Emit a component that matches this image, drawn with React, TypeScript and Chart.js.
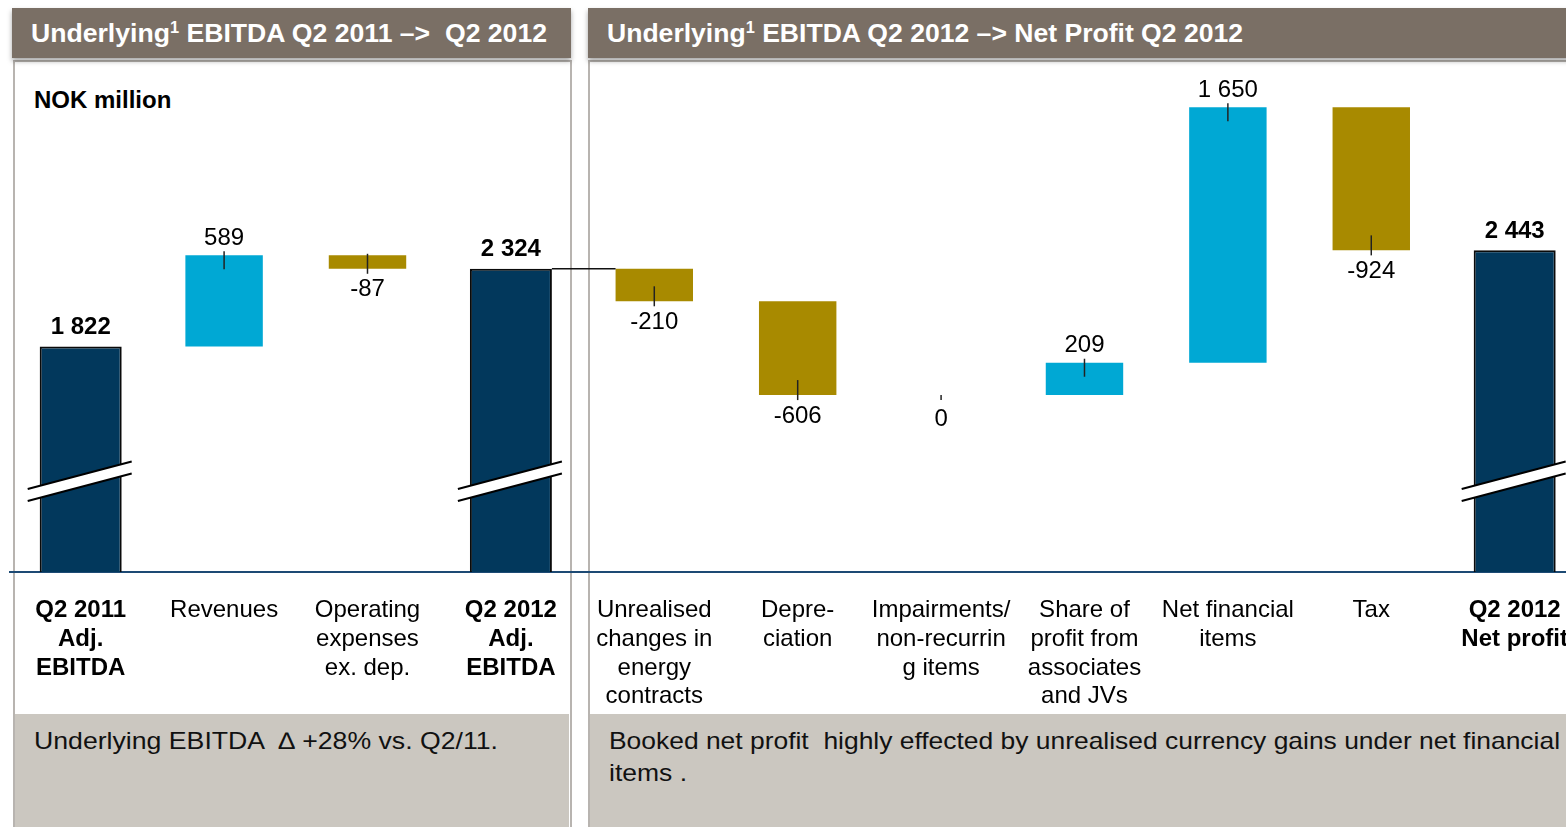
import React, { useEffect, useRef } from "react";
import { Chart, registerables } from "chart.js";

Chart.register(...registerables);

// ---------- DATA ----------
const categories: string[][] = [
  ["Q2 2011", "Adj.", "EBITDA"],
  ["Revenues"],
  ["Operating", "expenses", "ex. dep."],
  ["Q2 2012", "Adj.", "EBITDA"],
  ["Unrealised", "changes in", "energy", "contracts"],
  ["Depre-", "ciation"],
  ["Impairments/", "non-recurrin", "g items"],
  ["Share of", "profit from", "associates", "and JVs"],
  ["Net financial", "items"],
  ["Tax"],
  ["Q2 2012", "Net profit"],
];
// null = total bar (running sum)
const stepValues: (number | null)[] = [1822, 589, -87, null, -210, -606, 0, 209, 1650, -924, null];
const isTotal: boolean[] = [true, false, false, true, false, false, false, false, false, false, true];
const yMin = 365;
const yMax = 3660;

const TOTAL_COLOR = "#02385c";
const POS_COLOR = "#00a8d4";
const NEG_COLOR = "#a88a00";
const FONT = "'Liberation Sans', Arial, sans-serif";

function fmt(v: number): string {
  const s = Math.abs(v).toString().replace(/\B(?=(\d{3})+(?!\d))/g, " ");
  return (v < 0 ? "-" : "") + s;
}

function buildWaterfall() {
  let run = 0;
  const ranges: [number, number][] = [];
  const labels: number[] = [];
  stepValues.forEach((v, i) => {
    if (v === null) {
      ranges.push([0, run]);
      labels.push(run);
    } else if (i === 0) {
      run = v;
      ranges.push([0, run]);
      labels.push(v);
    } else {
      const start = run;
      run += v;
      ranges.push([start, run]);
      labels.push(v);
    }
  });
  return { ranges, labels };
}

function StretchText(props: { html: React.ReactNode; target: number; style: React.CSSProperties }) {
  const ref = useRef<HTMLSpanElement>(null);
  useEffect(() => {
    const el = ref.current;
    if (!el) return;
    el.style.transform = "none";
    const w = el.getBoundingClientRect().width;
    if (w > 0) el.style.transform = `scaleX(${props.target / w})`;
  }, [props.target]);
  return (
    <span ref={ref} style={{ display: "inline-block", transformOrigin: "left center", whiteSpace: "pre", ...props.style }}>
      {props.html}
    </span>
  );
}

export default function App() {
  const canvasRef = useRef<HTMLCanvasElement>(null);

  useEffect(() => {
    const canvas = canvasRef.current;
    if (!canvas) return;
    const { ranges, labels } = buildWaterfall();

    const stepColors = stepValues.map((v) => ((v ?? 0) >= 0 ? POS_COLOR : NEG_COLOR));
    const totalData = ranges.map((r, i) => (isTotal[i] ? r : null));
    const stepData = ranges.map((r, i) => (isTotal[i] ? null : r));

    const barOf = (chart: any, i: number) =>
      isTotal[i] ? chart.getDatasetMeta(0).data[i] : chart.getDatasetMeta(1).data[i];

    const decor = {
      id: "waterfallDecor",
      afterDatasetsDraw(chart: any) {
        const ctx = chart.ctx;
        const yScale = chart.scales.y;
        const area = chart.chartArea;
        ctx.save();

        // connector between Q2 2012 EBITDA and first step
        const b3 = barOf(chart, 3);
        const b4 = barOf(chart, 4);
        const yc = yScale.getPixelForValue(ranges[3][1]);
        ctx.strokeStyle = "#111";
        ctx.lineWidth = 1.5;
        ctx.beginPath();
        ctx.moveTo(b3.x + b3.width / 2, yc);
        ctx.lineTo(b4.x - b4.width / 2, yc);
        ctx.stroke();

        // axis-break marks on total bars
        const breakY = area.bottom - 91;
        categories.forEach((_, i) => {
          if (!isTotal[i]) return;
          const bar = barOf(chart, i);
          const x0 = bar.x - 53;
          const x1 = bar.x + 51;
          const slope = -27 / 102;
          const y0 = breakY + 8;
          const gap = 12;
          ctx.fillStyle = "#ffffff";
          ctx.beginPath();
          ctx.moveTo(x0, y0);
          ctx.lineTo(x1, y0 + slope * (x1 - x0));
          ctx.lineTo(x1, y0 + slope * (x1 - x0) + gap);
          ctx.lineTo(x0, y0 + gap);
          ctx.closePath();
          ctx.fill();
          ctx.strokeStyle = "#000";
          ctx.lineWidth = 2;
          ctx.beginPath();
          ctx.moveTo(x0, y0);
          ctx.lineTo(x1, y0 + slope * (x1 - x0));
          ctx.moveTo(x0, y0 + gap);
          ctx.lineTo(x1, y0 + slope * (x1 - x0) + gap);
          ctx.stroke();
        });

        // labels + leader lines
        ctx.textAlign = "center";
        ctx.textBaseline = "middle";
        categories.forEach((_, i) => {
          const bar = barOf(chart, i);
          const v = labels[i];
          const [s, e] = ranges[i];
          const total = isTotal[i];
          ctx.font = `${total ? "bold " : ""}24px ${FONT}`;
          ctx.fillStyle = "#000";
          if (total) {
            const yt = yScale.getPixelForValue(e);
            ctx.fillText(fmt(v), bar.x, yt - 19);
            return;
          }
          ctx.strokeStyle = "#222";
          ctx.lineWidth = 1.5;
          if (v > 0) {
            const yt = yScale.getPixelForValue(e);
            ctx.beginPath();
            ctx.moveTo(bar.x, yt - 4);
            ctx.lineTo(bar.x, yt + 14);
            ctx.stroke();
            ctx.fillText(fmt(v), bar.x, yt - 17);
          } else if (v < 0) {
            const yb = yScale.getPixelForValue(e);
            ctx.beginPath();
            ctx.moveTo(bar.x, yb - 15);
            ctx.lineTo(bar.x, yb + 5);
            ctx.stroke();
            ctx.fillText(fmt(v), bar.x, yb + 21);
          } else {
            const y = yScale.getPixelForValue(s);
            ctx.beginPath();
            ctx.moveTo(bar.x, y);
            ctx.lineTo(bar.x, y + 5);
            ctx.stroke();
            ctx.fillText(fmt(v), bar.x, y + 24);
          }
        });
        ctx.restore();
      },
    };

    const chart = new Chart(canvas, {
      type: "bar",
      data: {
        labels: categories as any,
        datasets: [
          {
            data: totalData as any,
            backgroundColor: TOTAL_COLOR,
            borderColor: "#0a0a0a",
            borderWidth: 2,
            borderSkipped: "start",
            barPercentage: 1,
            categoryPercentage: 0.572,
            grouped: false,
          },
          {
            data: stepData as any,
            backgroundColor: stepColors,
            borderWidth: 0,
            barPercentage: 1,
            categoryPercentage: 0.54,
            grouped: false,
          },
        ],
      },
      options: {
        animation: false,
        responsive: false,
        maintainAspectRatio: false,
        layout: { padding: 0 },
        plugins: { legend: { display: false }, tooltip: { enabled: false }, title: { display: false } },
        scales: {
          x: {
            z: 1,
            grid: { display: false, drawTicks: false },
            border: { display: true, color: "#1d4a74", width: 2 },
            afterFit: (scale: any) => {
              scale.height = 140;
            },
            ticks: {
              autoSkip: false,
              maxRotation: 0,
              minRotation: 0,
              padding: 24,
              color: "#000",
              font: (c: any) => ({
                family: FONT,
                size: 24,
                weight: isTotal[c.index] ? "bold" : "normal",
                lineHeight: 1.2,
              }),
            },
          },
          y: {
            display: false,
            min: yMin,
            max: yMax,
          },
        },
      },
      plugins: [decor],
    });
    return () => chart.destroy();
  }, []);

  const headerText: React.CSSProperties = {
    fontFamily: FONT,
    fontWeight: "bold",
    fontSize: 26,
    color: "#ffffff",
  };
  const sup: React.CSSProperties = { fontSize: 16, verticalAlign: "9px" };
  const footText: React.CSSProperties = { fontSize: 24, color: "#111", fontFamily: FONT, lineHeight: "32px" };
  const footLine: React.CSSProperties = { height: 32, lineHeight: "32px", whiteSpace: "pre" };

  return (
    <div
      style={{
        position: "fixed",
        left: 0,
        top: 0,
        width: 1566,
        height: 827,
        overflow: "hidden",
        background: "#ffffff",
        fontFamily: FONT,
      }}
    >
      {/* panel frames */}
      <div style={{ position: "absolute", left: 13, top: 60, width: 555, height: 780, border: "2px solid #b8b4b0" }} />
      <div style={{ position: "absolute", left: 588, top: 60, width: 1000, height: 780, border: "2px solid #b8b4b0" }} />

      {/* footers */}
      <div style={{ position: "absolute", left: 15, top: 714, width: 554, height: 113, background: "#cbc7c0" }} />
      <div style={{ position: "absolute", left: 590, top: 714, width: 976, height: 113, background: "#cbc7c0" }} />
      <div style={{ position: "absolute", left: 34, top: 725 }}>
        <div style={footLine}>
          <StretchText target={464} style={footText} html={"Underlying EBITDA  \u2206 +28% vs. Q2/11."} />
        </div>
      </div>
      <div style={{ position: "absolute", left: 609, top: 725 }}>
        <div style={footLine}>
          <StretchText
            target={951}
            style={footText}
            html={"Booked net profit  highly effected by unrealised currency gains under net financial"}
          />
        </div>
        <div style={footLine}>
          <StretchText target={78} style={footText} html={"items ."} />
        </div>
      </div>

      {/* headers */}
      <div
        style={{
          position: "absolute",
          left: 12,
          top: 8,
          width: 559,
          height: 50,
          background: "#7a6f65",
          boxShadow: "0 3px 5px rgba(0,0,0,0.35)",
          display: "flex",
          alignItems: "center",
          paddingLeft: 19,
          boxSizing: "border-box",
        }}
      >
        <StretchText
          target={516}
          style={headerText}
          html={
            <>
              Underlying<span style={sup}>1</span>
              {" EBITDA Q2 2011 \u2013>  Q2 2012"}
            </>
          }
        />
      </div>
      <div
        style={{
          position: "absolute",
          left: 588,
          top: 8,
          width: 990,
          height: 50,
          background: "#7a6f65",
          boxShadow: "0 3px 5px rgba(0,0,0,0.35)",
          display: "flex",
          alignItems: "center",
          paddingLeft: 19,
          boxSizing: "border-box",
        }}
      >
        <StretchText
          target={636}
          style={headerText}
          html={
            <>
              Underlying<span style={sup}>1</span>
              {" EBITDA Q2 2012 \u2013> Net Profit Q2 2012"}
            </>
          }
        />
      </div>

      {/* unit */}
      <div style={{ position: "absolute", left: 34, top: 86, fontSize: 24, fontWeight: "bold", color: "#000" }}>
        NOK million
      </div>

      {/* chart */}
      <div style={{ position: "absolute", left: 9, top: 62, width: 1583, height: 650 }}>
        <canvas ref={canvasRef} width={1583} height={650} style={{ width: 1583, height: 650 }} />
      </div>
    </div>
  );
}
